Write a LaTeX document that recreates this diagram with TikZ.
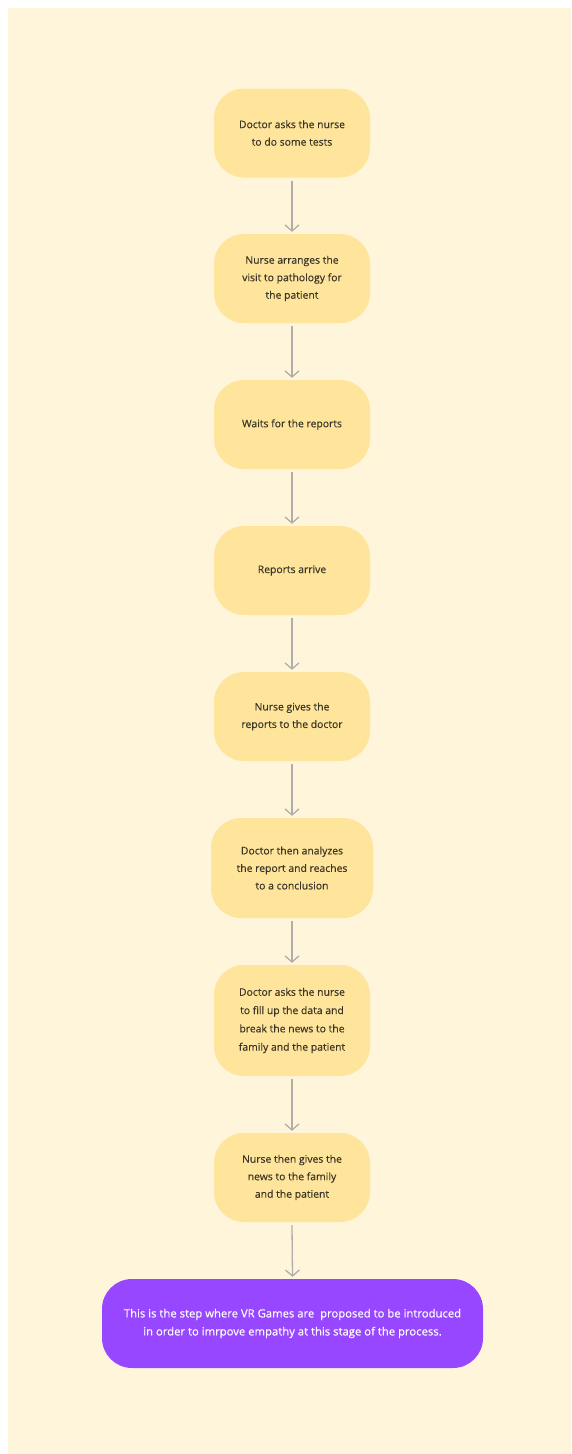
\documentclass[tikz,border=0pt]{standalone}
\usepackage{fontspec}
\setmainfont{Open Sans}
\newfontfamily\stepfont{Open Sans}[FakeBold=0.25]
\usetikzlibrary{arrows.meta}
\definecolor{panel}{HTML}{FFF5DB}
\definecolor{stepfill}{HTML}{FFE49C}
\definecolor{stepink}{HTML}{3A3526}
\definecolor{vrfill}{HTML}{9747FF}
\definecolor{flowgray}{HTML}{B0AEA9}
\tikzset{
  stepbox/.style={anchor=center,rectangle,rounded corners=30pt,fill=stepfill,
    text=stepink,minimum width=156pt,minimum height=89pt,align=center,
    font=\stepfont\fontsize{10.4}{17.5}\selectfont,inner sep=0pt},
  vrbox/.style={stepbox,fill=vrfill,text=white,minimum width=381pt,
    font=\stepfont\fontsize{11.3}{18}\selectfont},
  flow/.style={draw=flowgray,line width=1.3pt,
    -{Straight Barb[length=6pt,width=14pt,line width=1.3pt]}}
}
\begin{document}
\begin{tikzpicture}[x=1pt,y=-1pt]
    \useasboundingbox (0,0) rectangle (571,1454);
    \fill [panel] (8,8) rectangle (571,1454);

    \coordinate (c1) at (292, 133);
    \coordinate (c2) at (292, 278.5);
    \coordinate (c3) at (292, 424.5);
    \coordinate (c4) at (292, 570.5);
    \coordinate (c5) at (292, 716.5);
    \coordinate (c6) at (292, 868);
    \coordinate (c7) at (292, 1020.5);
    \coordinate (c8) at (292, 1177.5);
    \coordinate (c9) at (292.5, 1323.5);

    \node [stepbox] (s1) at (c1) {Doctor asks the nurse\\to do some tests};

    \node [stepbox] (s2) at (c2) {Nurse arranges the\\visit to pathology for\\the patient};

    \node [stepbox] (s3) at (c3) {Waits for the reports};

    \node [stepbox] (s4) at (c4) {Reports arrive};

    \node [stepbox] (s5) at (c5) {Nurse gives the\\reports to the doctor};

    \node [stepbox,minimum width=162pt,minimum height=100pt] (s6) at (c6)
    {Doctor then analyzes\\the report and reaches\\to a conclusion};

    \node [stepbox,minimum height=111pt,
    font=\stepfont\fontsize{10.4}{18.3}\selectfont] (s7) at (c7)
    {Doctor asks the nurse\\to fill up the data and\\break the news to the\\family and the patient};

    \node [stepbox] (s8) at (c8) {Nurse then gives the\\news to the family\\and the patient};

    \node [vrbox] (vr) at (c9)
    {This is the step where VR Games are \ proposed to be introduced\\in order to imrpove empathy at this stage of the process.};

    \draw [flow] ([yshift=-3pt]s1.south) -- ([yshift=2pt]s2.north);
    \draw [flow] ([yshift=-3pt]s2.south) -- ([yshift=2pt]s3.north);
    \draw [flow] ([yshift=-3pt]s3.south) -- ([yshift=2pt]s4.north);
    \draw [flow] ([yshift=-3pt]s4.south) -- ([yshift=2pt]s5.north);
    \draw [flow] ([yshift=-3pt]s5.south) -- ([yshift=2pt]s6.north);
    \draw [flow] ([yshift=-3pt]s6.south) -- ([yshift=2pt]s7.north);
    \draw [flow] ([yshift=-3pt]s7.south) -- ([yshift=2pt]s8.north);
    \draw [flow] ([yshift=-3pt]s8.south) -- ([yshift=2pt]vr.north);
  \end{tikzpicture}
\end{document}
